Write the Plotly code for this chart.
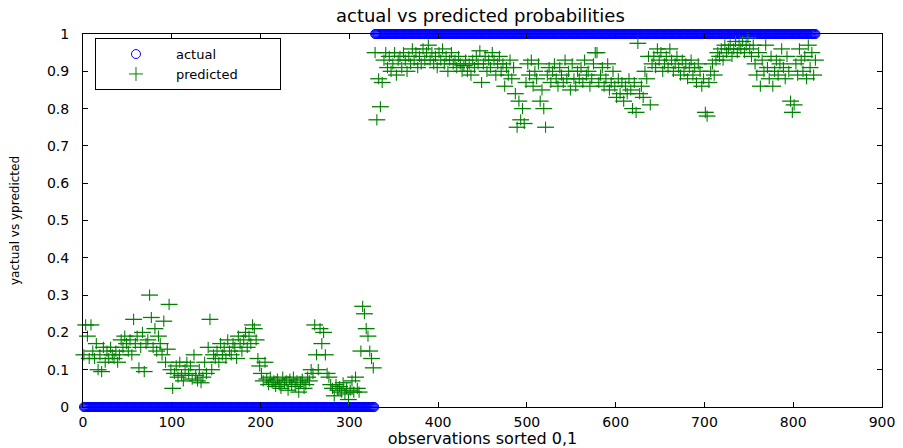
import plotly.graph_objects as go

# ---------------- data ----------------
TITLE = "actual vs predicted probabilities"
X_LABEL = "observations sorted 0,1"
Y_LABEL = "yactual vs ypredicted"
LEGEND_ACTUAL = "actual"
LEGEND_PRED = "predicted"

N_ZERO = 328          # observations whose actual class is 0
N_ONE = 497           # observations whose actual class is 1

X_TICKS = [0, 100, 200, 300, 400, 500, 600, 700, 800, 900]
Y_TICKS = [0, 0.1, 0.2, 0.3, 0.4, 0.5, 0.6, 0.7, 0.8, 0.9, 1]
Y_TICK_TEXT = ["0", "0.1", "0.2", "0.3", "0.4", "0.5", "0.6", "0.7", "0.8", "0.9", "1"]

# predicted probability, observations 1,3,5,...,327 (actual = 0)
PRED_LOW_START = 1
PRED_LOW = [
    0.14, 0.22, 0.19, 0.13, 0.22,
    0.15, 0.13, 0.17, 0.10, 0.14,
    0.095, 0.16, 0.12, 0.15, 0.13,
    0.16, 0.14, 0.13, 0.15, 0.12,
    0.14, 0.18, 0.16, 0.19, 0.17,
    0.15, 0.18, 0.14, 0.235, 0.17,
    0.19, 0.105, 0.16, 0.20, 0.095,
    0.17, 0.18, 0.30, 0.24, 0.16,
    0.21, 0.15, 0.19, 0.17, 0.14,
    0.23, 0.12, 0.155, 0.275, 0.10,
    0.05, 0.09, 0.11, 0.08, 0.12,
    0.085, 0.07, 0.10, 0.12, 0.09,
    0.11, 0.075, 0.14, 0.085, 0.07,
    0.10, 0.065, 0.08, 0.12, 0.09,
    0.16, 0.235, 0.10, 0.14, 0.13,
    0.15, 0.12, 0.17, 0.14, 0.16,
    0.13, 0.18, 0.15, 0.14, 0.17,
    0.16, 0.13, 0.19, 0.17, 0.15,
    0.18, 0.20, 0.16, 0.19, 0.17,
    0.22, 0.21, 0.18, 0.13, 0.11,
    0.09, 0.07, 0.12, 0.075, 0.06,
    0.08, 0.065, 0.07, 0.055, 0.075,
    0.06, 0.05, 0.08, 0.065, 0.07,
    0.045, 0.075, 0.06, 0.08, 0.055,
    0.07, 0.04, 0.065, 0.075, 0.05,
    0.06, 0.08, 0.07, 0.10, 0.09,
    0.22, 0.14, 0.10, 0.21, 0.17,
    0.20, 0.14, 0.09, 0.08, 0.06,
    0.05, 0.03, 0.06, 0.045, 0.055,
    0.04, 0.065, 0.035, 0.05, 0.02,
    0.045, 0.07, 0.04, 0.08, 0.05,
    0.04, 0.15, 0.27, 0.25, 0.21,
    0.19, 0.15, 0.13, 0.105,
]

# predicted probability, observations 329,331,...,825 (actual = 1)
PRED_HIGH_START = 329
PRED_HIGH = [
    0.95, 0.77, 0.88, 0.805, 0.87,
    0.93, 0.95, 0.91, 0.94, 0.90,
    0.92, 0.95, 0.89, 0.93, 0.94,
    0.91, 0.95, 0.93, 0.90, 0.94,
    0.92, 0.96, 0.93, 0.95, 0.91,
    0.94, 0.92, 0.96, 0.93, 0.95,
    0.97, 0.93, 0.95, 0.92, 0.94,
    0.91, 0.95, 0.93, 0.96, 0.92,
    0.94, 0.90, 0.93, 0.95, 0.92,
    0.93, 0.91, 0.94, 0.92, 0.90,
    0.915, 0.93, 0.90, 0.92, 0.89,
    0.93, 0.91, 0.94, 0.92, 0.955,
    0.87, 0.92, 0.94, 0.90, 0.93,
    0.91, 0.95, 0.93, 0.89, 0.92,
    0.94, 0.90, 0.92, 0.86, 0.91,
    0.89, 0.93, 0.88, 0.91, 0.84,
    0.75, 0.82, 0.77, 0.80, 0.76,
    0.87, 0.92, 0.89, 0.93, 0.86,
    0.90, 0.88, 0.92, 0.82, 0.85,
    0.80, 0.75, 0.89, 0.91, 0.87,
    0.90, 0.92, 0.88, 0.86, 0.91,
    0.89, 0.87, 0.93, 0.88, 0.90,
    0.85, 0.92, 0.88, 0.86, 0.90,
    0.88, 0.91, 0.87, 0.93, 0.89,
    0.90, 0.86, 0.88, 0.92, 0.95,
    0.95, 0.87, 0.89, 0.91, 0.86,
    0.88, 0.92, 0.85, 0.87, 0.90,
    0.86, 0.83, 0.88, 0.84, 0.87,
    0.82, 0.86, 0.84, 0.88, 0.85,
    0.80, 0.87, 0.79, 0.975, 0.84,
    0.86, 0.83, 0.90, 0.88, 0.94,
    0.81, 0.92, 0.94, 0.91, 0.96,
    0.93, 0.95, 0.90, 0.92, 0.94,
    0.91, 0.96, 0.93, 0.90, 0.92,
    0.94, 0.91, 0.89, 0.93, 0.90,
    0.92, 0.88, 0.91, 0.93, 0.89,
    0.91, 0.87, 0.92, 0.90, 0.86,
    0.88, 0.79, 0.78, 0.87, 0.90,
    0.92, 0.89, 0.93, 0.95, 0.94,
    0.96, 0.93, 0.97, 0.95, 0.96,
    0.97, 0.94, 0.96, 0.98, 0.95,
    0.97, 0.96, 0.98, 0.95, 0.97,
    0.99, 0.96, 0.94, 0.97, 0.92,
    0.89, 0.95, 0.86, 0.93, 0.90,
    0.97, 0.91, 0.88, 0.94, 0.86,
    0.90, 0.93, 0.89, 0.92, 0.96,
    0.91, 0.88, 0.94, 0.90, 0.82,
    0.79, 0.81, 0.92, 0.89, 0.96,
    0.93, 0.90, 0.94, 0.88, 0.97,
    0.91, 0.95, 0.89, 0.93,
]

# ---------------- derived series ----------------
actual_y = [0] * N_ZERO + [1] * N_ONE
actual_x = list(range(1, len(actual_y) + 1))

pred_x = ([PRED_LOW_START + 2 * i for i in range(len(PRED_LOW))] +
          [PRED_HIGH_START + 2 * i for i in range(len(PRED_HIGH))])
pred_y = PRED_LOW + PRED_HIGH

GREEN = "#008000"
BLUE = "#0000ff"
FONT = "DejaVu Sans"
NB = "\u00a0"

fig = go.Figure()

fig.add_trace(go.Scatter(
    x=actual_x, y=actual_y, mode="markers", name=LEGEND_ACTUAL,
    marker=dict(symbol="circle-open", size=9, color=BLUE, line=dict(width=1, color=BLUE)),
    cliponaxis=False,
))
# predicted: the "+" is wider than tall in the reference; draw the two arms separately
fig.add_trace(go.Scatter(
    x=pred_x, y=pred_y, mode="markers", name=LEGEND_PRED, showlegend=False,
    legendgroup="pred",
    marker=dict(symbol="line-ew-open", size=12, color=GREEN, line=dict(width=1.3, color=GREEN)),
    cliponaxis=False,
))
fig.add_trace(go.Scatter(
    x=pred_x, y=pred_y, mode="markers", name=LEGEND_PRED, showlegend=False,
    legendgroup="pred",
    marker=dict(symbol="line-ns-open", size=8, color=GREEN, line=dict(width=1.1, color=GREEN)),
    cliponaxis=False,
))
fig.add_trace(go.Scatter(
    x=[None], y=[None], mode="markers", name=LEGEND_PRED + NB * 9, legendgroup="pred",
    marker=dict(symbol="cross-thin-open", size=10, color=GREEN, line=dict(width=1, color=GREEN)),
))

axis_common = dict(
    showgrid=False, zeroline=False, showline=True, linecolor="black", linewidth=1,
    mirror="ticks", ticks="inside", ticklen=5, tickcolor="black", automargin=False,
    tickfont=dict(family=FONT, size=14, color="black"),
)

fig.update_layout(
    width=903, height=448,
    margin=dict(l=83, r=21, t=34, b=41),
    paper_bgcolor="white", plot_bgcolor="white",
    title=dict(text=TITLE, x=0.532, xanchor="center", y=0.964, yanchor="middle",
               font=dict(family=FONT, size=18, color="black")),
    xaxis=dict(range=[0, 900], tickvals=X_TICKS, ticklabelstandoff=2,
               title=dict(text=X_LABEL, font=dict(family=FONT, size=16, color="black"), standoff=0),
               **axis_common),
    yaxis=dict(range=[0, 1], tickvals=Y_TICKS, ticktext=Y_TICK_TEXT, ticklabelstandoff=10,
               title=dict(text=Y_LABEL, font=dict(family=FONT, size=12, color="black"), standoff=24),
               **axis_common),
    legend=dict(x=0.015, y=0.989, xanchor="left", yanchor="top",
                bordercolor="black", borderwidth=1, bgcolor="white",
                font=dict(family=FONT, size=13, color="black"),
                itemwidth=70, tracegroupgap=0),
    showlegend=True,
)

fig.write_html("out.html", config={"displayModeBar": False},
               post_script="document.body.style.margin='0px';")
